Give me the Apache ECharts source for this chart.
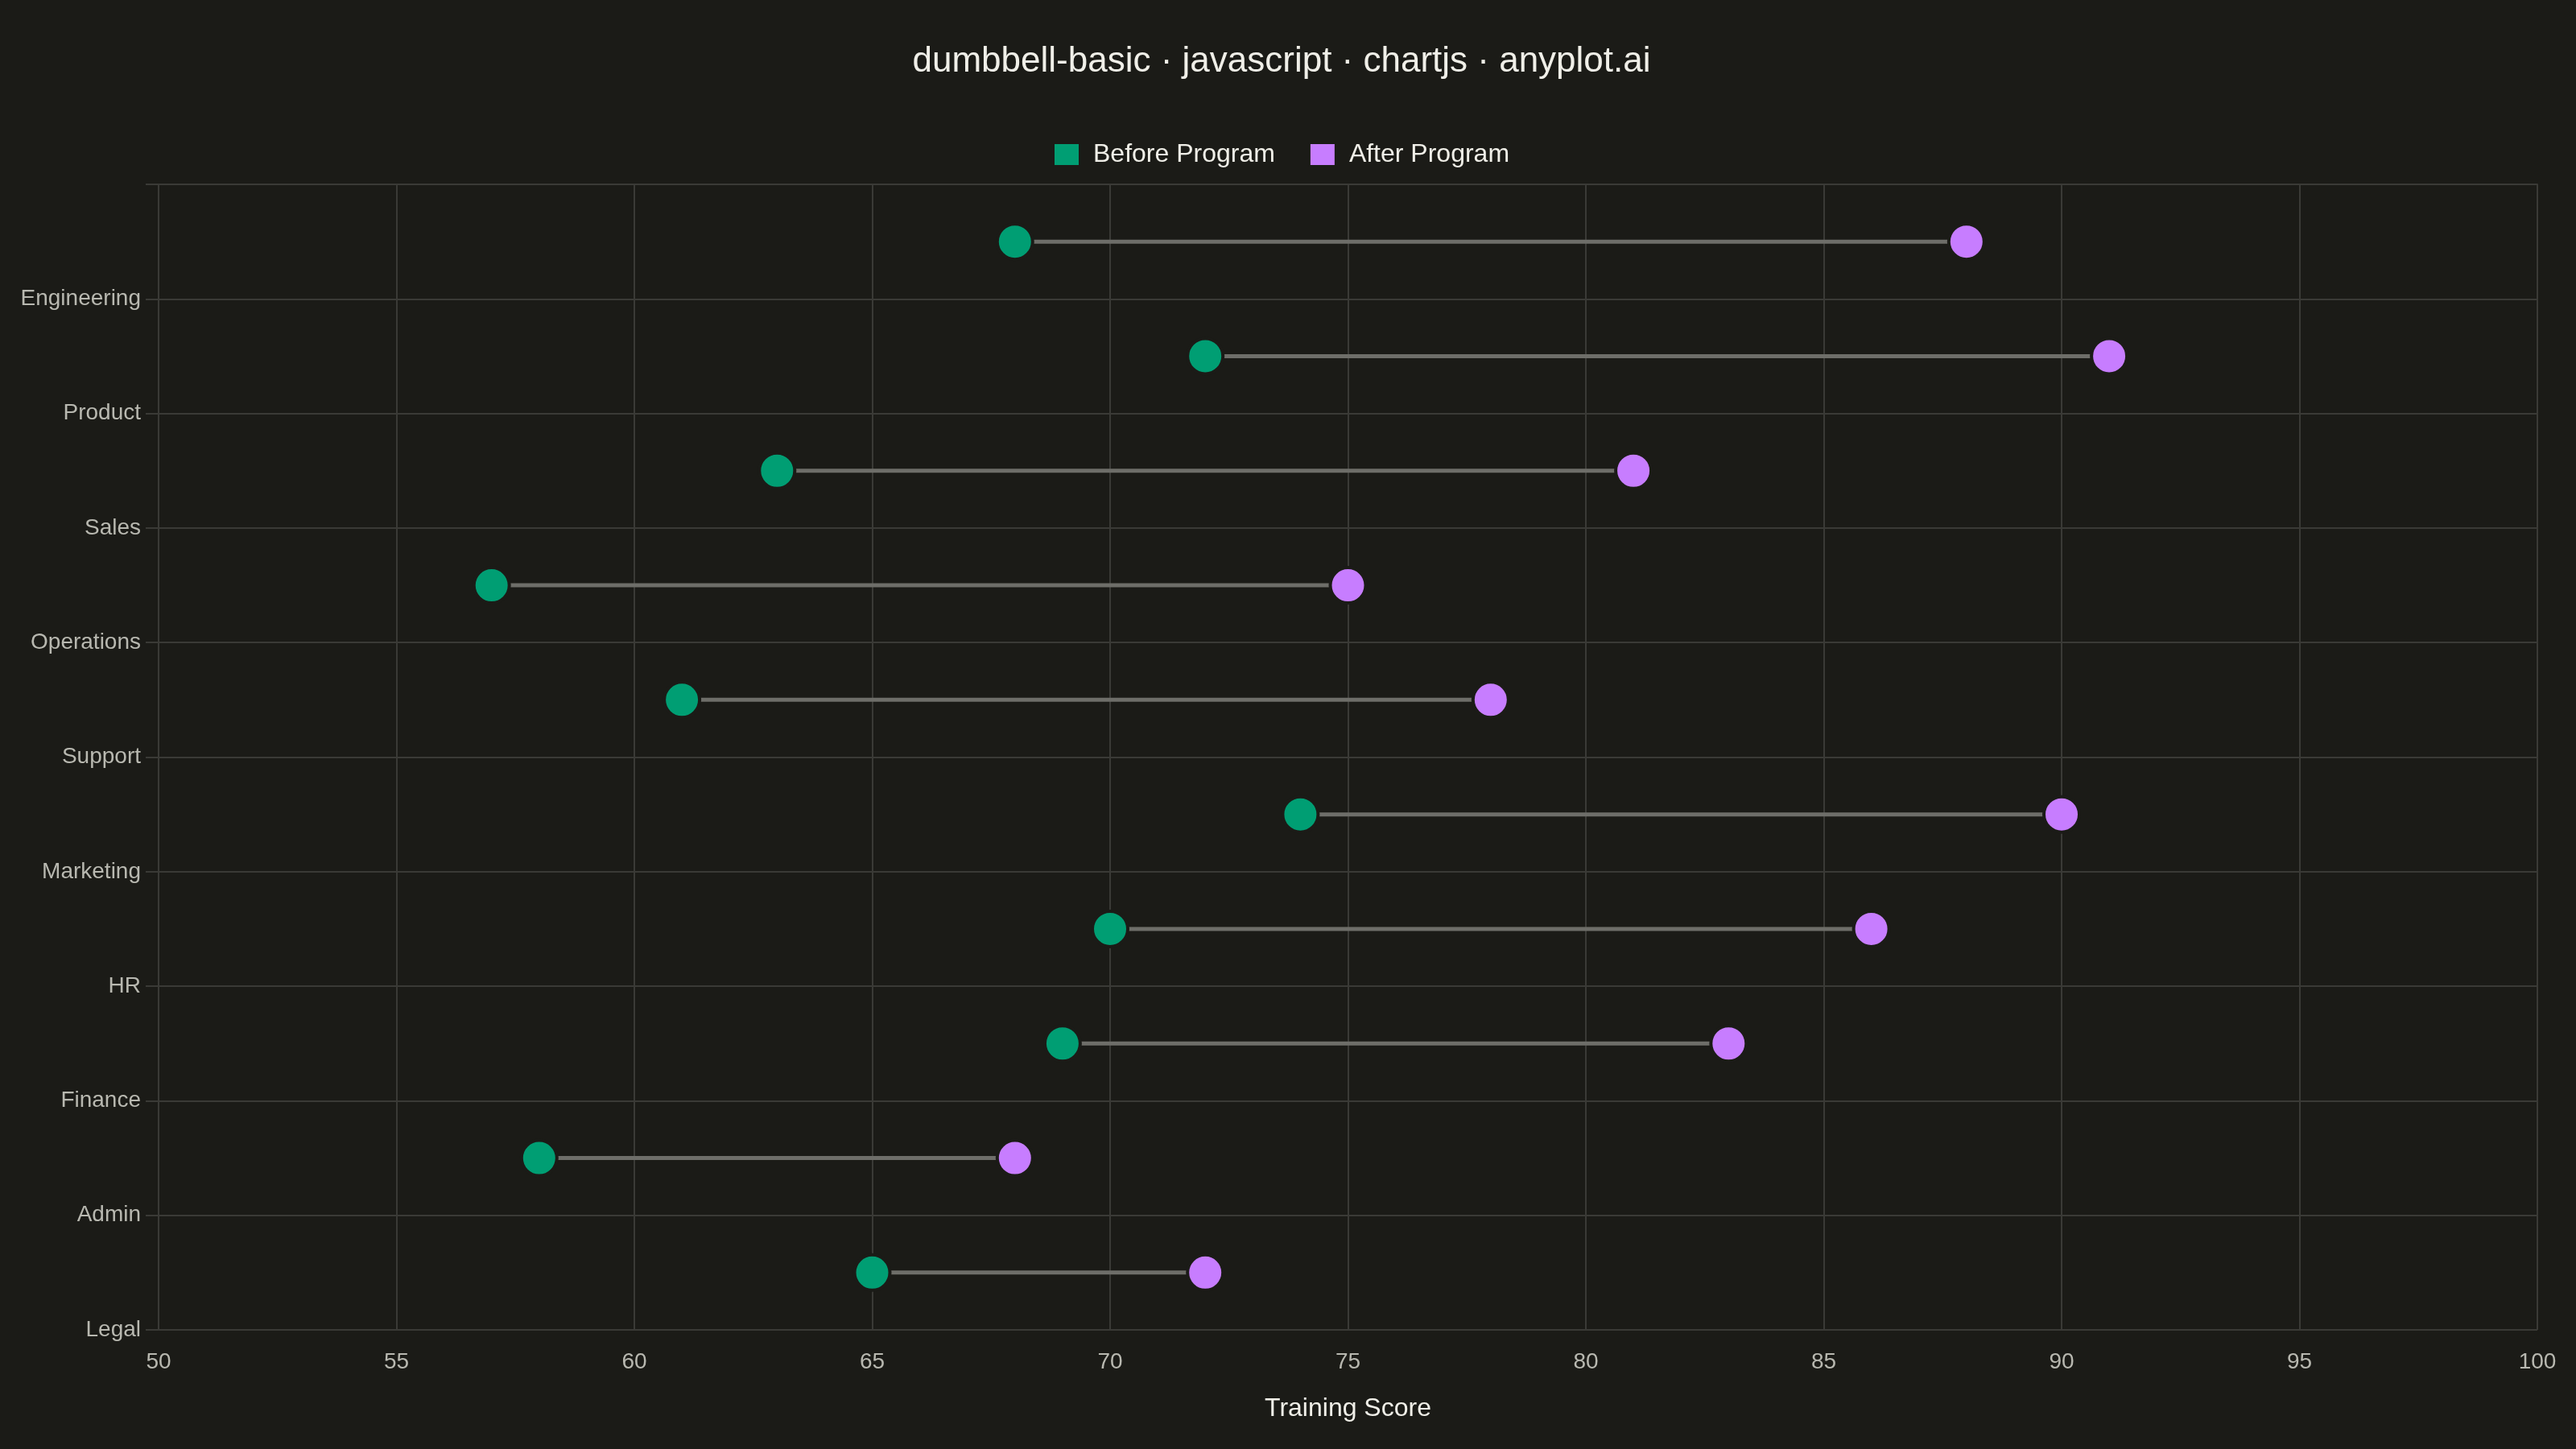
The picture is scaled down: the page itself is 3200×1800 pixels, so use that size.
<!DOCTYPE html>
<html>
<head>
<meta charset="utf-8">
<title>dumbbell-basic</title>
<script src="https://cdn.jsdelivr.net/npm/echarts@6/dist/echarts.min.js"></script>
<style>
  html, body { margin: 0; padding: 0; background: #1b1b17; }
  #chart { width: 3200px; height: 1800px; }
</style>
</head>
<body>
<div id="chart"></div>
<script>
const departments = ['Engineering', 'Product', 'Sales', 'Operations', 'Support',
                     'Marketing', 'HR', 'Finance', 'Admin', 'Legal'];
const beforeScores = [68, 72, 63, 57, 61, 74, 70, 69, 58, 65];
const afterScores  = [88, 91, 81, 75, 78, 90, 86, 83, 68, 72];
const xTicks = { min: 50, max: 100, interval: 5 };

const bg = '#1b1b17';
const gridColor = '#3a3a36';
const labelColor = '#b8b8b0';
const textColor = '#f0efe8';
const font = '"Liberation Sans", Arial, sans-serif';

// points sit in the middle of each band, labels on the band's lower line
const rows = departments.map((d, i) => i + 0.5);
const beforeData = beforeScores.map((v, i) => [v, rows[i]]);
const afterData = afterScores.map((v, i) => [v, rows[i]]);
const segData = departments.map((d, i) => [beforeScores[i], afterScores[i], rows[i]]);

const chart = echarts.init(document.getElementById('chart'));

chart.setOption({
  backgroundColor: bg,
  animation: false,
  title: {
    text: 'dumbbell-basic · javascript · chartjs · anyplot.ai',
    left: 1587,
    textAlign: 'center',
    top: 50,
    textStyle: { color: textColor, fontSize: 44, fontWeight: 'normal', fontFamily: font }
  },
  legend: {
    data: ['Before Program', 'After Program'],
    top: 171,
    left: 1303,
    icon: 'rect',
    itemWidth: 32,
    itemHeight: 28,
    itemGap: 42,
    selectedMode: false,
    textStyle: { color: textColor, fontSize: 32, fontFamily: font, padding: [0, 0, 0, 12] }
  },
  grid: { left: 197, right: 48, top: 229, bottom: 148, containLabel: false },
  xAxis: {
    type: 'value',
    min: xTicks.min,
    max: xTicks.max,
    interval: xTicks.interval,
    name: 'Training Score',
    nameLocation: 'middle',
    nameGap: 82,
    nameTextStyle: { color: textColor, fontSize: 32, fontFamily: font },
    axisLine: { show: true, lineStyle: { color: gridColor, width: 2 } },
    axisTick: { show: true, length: 16, lineStyle: { color: gridColor, width: 2 } },
    axisLabel: { color: labelColor, fontSize: 28, fontFamily: font, margin: 26 },
    splitLine: { show: true, lineStyle: { color: gridColor, width: 2 } }
  },
  yAxis: {
    type: 'value',
    inverse: true,
    min: 0,
    max: departments.length,
    interval: 1,
    axisLine: { show: true, lineStyle: { color: gridColor, width: 2 } },
    axisTick: { show: true, length: 16, lineStyle: { color: gridColor, width: 2 } },
    axisLabel: {
      color: labelColor, fontSize: 28, fontFamily: font, margin: 22,
      formatter: v => (v >= 1 ? departments[v - 1] : '')
    },
    splitLine: { show: true, lineStyle: { color: gridColor, width: 2 } }
  },
  series: [
    {
      type: 'custom',
      name: 'connector',
      data: segData,
      encode: { x: [0, 1], y: 2 },
      z: 1,
      renderItem: function (params, api) {
        const p1 = api.coord([api.value(0), api.value(2)]);
        const p2 = api.coord([api.value(1), api.value(2)]);
        return {
          type: 'line',
          shape: { x1: p1[0], y1: p1[1], x2: p2[0], y2: p2[1] },
          style: { stroke: '#6e6e69', lineWidth: 5 }
        };
      }
    },
    {
      type: 'scatter',
      name: 'Before Program',
      data: beforeData,
      symbolSize: 44,
      z: 3,
      itemStyle: { color: '#009E73', borderColor: bg, borderWidth: 4, opacity: 1 }
    },
    {
      type: 'scatter',
      name: 'After Program',
      data: afterData,
      symbolSize: 44,
      z: 3,
      itemStyle: { color: '#C77DFF', borderColor: bg, borderWidth: 4, opacity: 1 }
    }
  ]
});
</script>
</body>
</html>
